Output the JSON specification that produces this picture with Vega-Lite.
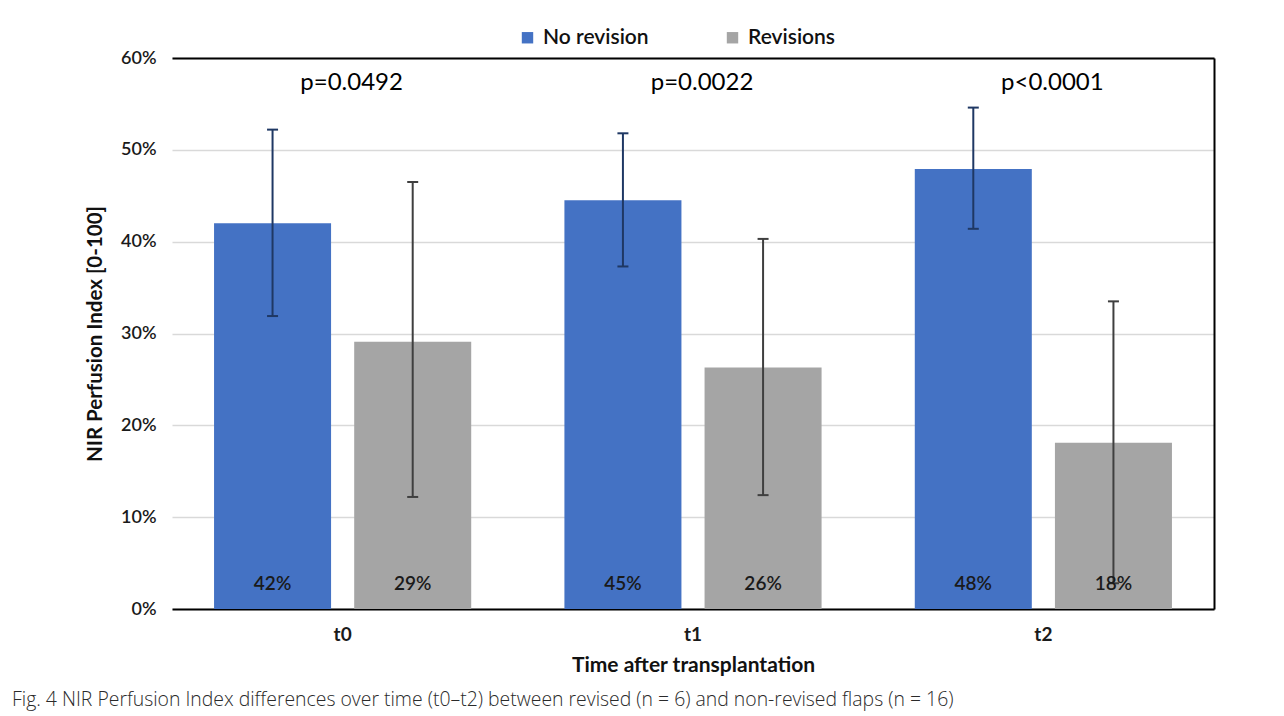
{
  "$schema": "https://vega.github.io/schema/vega-lite/v6.json",
  "width": 1042,
  "height": 551,
  "autosize": {"type": "none"},
  "padding": {"left": 172, "top": 58, "right": 70, "bottom": 107},
  "background": "white",
  "config": {
    "font": "Lato",
    "view": {"stroke": null},
    "axis": {"labelColor": "#1a1a1a", "titleColor": "#111111"}
  },
  "title": {
    "text": "Fig. 4  NIR Perfusion Index differences over time (t0–t2) between revised (n = 6) and non-revised flaps (n = 16)",
    "orient": "bottom",
    "anchor": "start",
    "frame": "group",
    "dx": -160,
    "offset": 16,
    "font": "Open Sans",
    "fontSize": 19.4,
    "fontWeight": 300,
    "color": "#2a2a2a"
  },
  "data": {
    "values": [
      {"time": "t0", "group": "No revision", "mean": 42.0, "lo": 31.9, "hi": 52.2, "label": "42%"},
      {"time": "t0", "group": "Revisions", "mean": 29.1, "lo": 12.2, "hi": 46.5, "label": "29%"},
      {"time": "t1", "group": "No revision", "mean": 44.5, "lo": 37.3, "hi": 51.8, "label": "45%"},
      {"time": "t1", "group": "Revisions", "mean": 26.3, "lo": 12.4, "hi": 40.3, "label": "26%"},
      {"time": "t2", "group": "No revision", "mean": 47.9, "lo": 41.4, "hi": 54.6, "label": "48%"},
      {"time": "t2", "group": "Revisions", "mean": 18.1, "lo": 2.8, "hi": 33.5, "label": "18%"}
    ]
  },
  "layer": [
    {
      "mark": {"type": "bar"},
      "encoding": {
        "x": {
          "field": "time", "type": "nominal",
          "scale": {"paddingInner": 0.266, "paddingOuter": 0.12},
          "axis": {
            "orient": "bottom", "domain": true, "domainColor": "#000000", "domainWidth": 2,
            "ticks": false, "grid": false, "labelAngle": 0,
            "labelFontSize": 19, "labelFontWeight": "bold", "labelPadding": 16,
            "title": "Time after transplantation", "titleFontSize": 21, "titleFontWeight": "bold", "titlePadding": 10
          }
        },
        "xOffset": {
          "field": "group", "type": "nominal",
          "scale": {"domain": ["No revision", "Revisions"], "paddingInner": 0.165, "paddingOuter": 0}
        },
        "y": {
          "field": "mean", "type": "quantitative",
          "scale": {"domain": [0, 60], "nice": false},
          "axis": {
            "orient": "left", "domain": false, "ticks": false, "grid": true,
            "gridColor": "#d9d9d9", "gridWidth": 1.5,
            "values": [0, 10, 20, 30, 40, 50, 60],
            "labelExpr": "datum.value + '%'",
            "labelFontSize": 18, "labelFontWeight": 600, "labelPadding": 16,
            "title": "NIR Perfusion Index [0-100]", "titleFontSize": 20.5, "titleFontWeight": "bold", "titlePadding": 15
          }
        },
        "color": {
          "field": "group", "type": "nominal",
          "scale": {"domain": ["No revision", "Revisions"], "range": ["#4472c4", "#a5a5a5"]},
          "legend": {
            "orient": "none", "legendX": 345, "legendY": -31, "direction": "horizontal",
            "title": null, "symbolType": "square", "symbolSize": 130, "symbolStrokeWidth": 0,
            "labelFontSize": 21, "labelFontWeight": 600, "labelColor": "#111111",
            "labelOffset": 5, "columnPadding": 73
          }
        }
      }
    },
    {
      "transform": [{"filter": "datum.group === 'No revision'"}],
      "mark": {"type": "rule", "color": "#1f3864", "strokeWidth": 2},
      "encoding": {
        "x": {"field": "time", "type": "nominal", "axis": null},
        "xOffset": {"field": "group", "type": "nominal"},
        "y": {"field": "lo", "type": "quantitative", "axis": null},
        "y2": {"field": "hi"}
      }
    },
    {
      "transform": [{"filter": "datum.group === 'Revisions'"}],
      "mark": {"type": "rule", "color": "#3f3f3f", "strokeWidth": 2},
      "encoding": {
        "x": {"field": "time", "type": "nominal", "axis": null},
        "xOffset": {"field": "group", "type": "nominal"},
        "y": {"field": "lo", "type": "quantitative", "axis": null},
        "y2": {"field": "hi"}
      }
    },
    {
      "transform": [
        {"filter": "datum.group === 'No revision'"},
        {"fold": ["lo", "hi"], "as": ["end", "v"]}
      ],
      "mark": {"type": "tick", "color": "#1f3864", "size": 11, "thickness": 2, "opacity": 1},
      "encoding": {
        "x": {"field": "time", "type": "nominal", "axis": null},
        "xOffset": {"field": "group", "type": "nominal"},
        "y": {"field": "v", "type": "quantitative", "axis": null}
      }
    },
    {
      "transform": [
        {"filter": "datum.group === 'Revisions'"},
        {"fold": ["lo", "hi"], "as": ["end", "v"]}
      ],
      "mark": {"type": "tick", "color": "#3f3f3f", "size": 11, "thickness": 2, "opacity": 1},
      "encoding": {
        "x": {"field": "time", "type": "nominal", "axis": null},
        "xOffset": {"field": "group", "type": "nominal"},
        "y": {"field": "v", "type": "quantitative", "axis": null}
      }
    },
    {
      "mark": {"type": "text", "fontSize": 19, "fontWeight": 600, "color": "#1a1a1a", "baseline": "middle", "dy": -25},
      "encoding": {
        "x": {"field": "time", "type": "nominal", "axis": null},
        "xOffset": {"field": "group", "type": "nominal"},
        "y": {"datum": 0, "type": "quantitative", "axis": null},
        "text": {"field": "label"}
      }
    },
    {
      "data": {
        "values": [
          {"time": "t0", "p": "p=0.0492"},
          {"time": "t1", "p": "p=0.0022"},
          {"time": "t2", "p": "p<0.0001"}
        ]
      },
      "mark": {"type": "text", "fontSize": 24, "color": "#000000", "baseline": "middle", "dx": 9},
      "encoding": {
        "x": {
          "field": "time", "type": "nominal",
          "axis": {"orient": "top", "domain": true, "domainColor": "#000000", "domainWidth": 2, "labels": false, "ticks": false, "grid": false, "title": null}
        },
        "y": {
          "datum": 57.3, "type": "quantitative",
          "axis": {"orient": "right", "domain": true, "domainColor": "#000000", "domainWidth": 2, "labels": false, "ticks": false, "grid": false, "title": null}
        },
        "text": {"field": "p"}
      }
    }
  ],
  "resolve": {"axis": {"x": "independent", "y": "independent"}}
}
